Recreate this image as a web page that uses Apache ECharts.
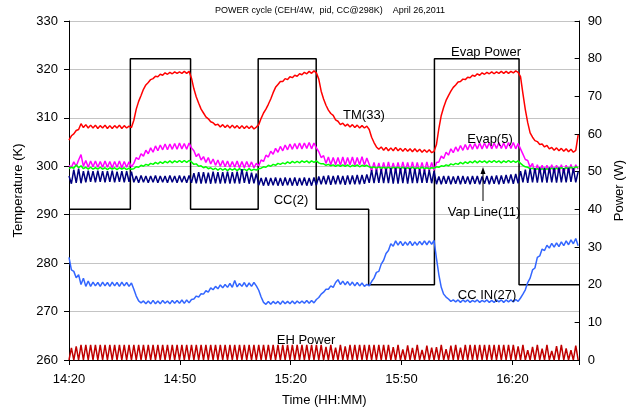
<!DOCTYPE html>
<html><head><meta charset="utf-8">
<script src="https://cdn.jsdelivr.net/npm/echarts@6/dist/echarts.min.js"></script>
<style>html,body{margin:0;padding:0;background:#fff}#c{width:634px;height:412px}</style>
</head><body><div id="c"></div>
<script>
// ---- data (minutes after 14:20, one sample every 0.65 min) ----
const sampleStepMin = 0.65;
const timeTickLabels = ['14:20', '14:50', '15:20', '15:50', '16:20'];

const evapPowerTimes = [0, 16.6, 32.9, 51.2, 66.9, 81.1, 98.9, 121.8, 138.2];
const evapPowerWatts = [40, 80, 40, 80, 40, 20, 80, 20, 20];

const tm33 = [
305.4,306.3,306.7,307.4,307.6,308.8,308.0,308.6,307.9,308.5,307.9,308.5,307.8,308.4,307.9,308.5,307.8,308.4,307.8,308.4,307.9,308.5,307.8,308.4,307.9,308.3,308.0,
309.5,311.8,313.4,314.6,315.9,316.8,317.3,317.9,318.1,318.6,318.5,319.0,318.8,319.3,319.0,319.4,319.1,319.5,319.2,319.5,319.2,319.6,319.2,319.6,
318.2,316.0,314.3,313.0,311.8,311.0,310.2,309.8,309.2,309.0,308.5,308.7,308.1,308.6,308.0,308.5,307.9,308.5,307.9,308.4,307.8,308.4,307.8,308.3,307.8,308.3,307.7,308.1,
308.6,309.9,311.0,311.8,312.8,313.9,315.2,316.3,316.9,317.5,317.5,318.1,317.9,318.5,318.3,318.8,318.6,319.1,318.9,319.4,319.1,319.6,319.2,319.7,319.3,
318.0,315.5,313.9,312.6,311.6,310.9,310.5,309.6,309.3,308.6,308.9,308.3,308.7,308.1,308.6,308.0,308.5,307.9,308.4,307.9,308.3,
307.6,306.0,304.9,304.0,303.5,304.0,303.3,303.9,303.2,303.8,303.2,303.9,303.2,303.7,303.1,303.7,303.1,303.6,303.0,303.6,303.0,303.5,302.9,303.4,302.9,303.4,302.8,303.1,
304.5,307.8,310.5,312.2,313.6,314.6,315.5,316.3,316.8,317.4,317.5,318.0,317.9,318.4,318.3,318.8,318.6,319.1,318.8,319.3,319.0,319.4,319.1,319.5,319.1,319.5,319.2,319.6,319.2,319.6,319.2,319.6,319.3,319.7,319.4,
318.5,315.0,311.7,309.0,306.9,306.0,305.3,305.1,304.5,304.6,304.0,304.3,303.6,303.9,303.3,303.8,303.2,303.7,303.1,303.6,303.0,303.5,302.9,303.3,306.5
];

const evap5 = [
300.2,299.8,300.9,300.0,301.3,302.4,300.0,301.2,299.8,301.1,299.9,301.1,299.8,301.0,299.8,301.1,299.8,301.0,299.7,301.0,299.8,301.1,299.7,301.0,299.8,300.9,299.9,
300.6,301.8,301.4,302.6,302.1,303.3,302.6,303.8,302.9,304.2,303.2,304.4,303.4,304.6,303.4,304.6,303.5,304.7,303.5,304.8,303.6,304.7,303.5,304.8,
303.8,303.2,302.0,302.6,301.3,302.0,300.8,301.8,300.5,301.5,300.2,301.3,300.0,301.2,299.9,301.1,299.8,301.0,299.8,301.1,299.7,301.0,299.7,301.0,299.8,300.9,299.7,300.6,
300.1,301.3,301.0,302.3,301.9,303.1,302.5,303.7,302.9,304.1,303.2,304.4,303.4,304.6,303.5,304.7,303.6,304.8,303.6,304.8,303.7,304.9,303.6,304.8,303.8,
303.0,301.8,302.2,300.6,301.9,300.3,301.8,300.3,301.8,300.2,301.9,300.2,301.8,300.3,301.9,300.2,301.8,300.3,302.0,300.2,301.7,
300.4,299.0,300.8,298.9,300.7,298.8,300.8,298.8,300.9,298.9,300.7,298.8,300.8,298.8,300.9,298.9,300.8,298.8,300.9,298.9,300.8,298.9,300.8,298.9,300.9,299.0,300.8,299.2,
300.8,300.9,302.1,301.6,302.9,302.3,303.6,302.8,304.0,303.1,304.3,303.3,304.5,303.4,304.6,303.5,304.7,303.6,304.8,303.6,304.8,303.7,304.9,303.6,304.8,303.7,304.9,303.7,304.8,303.6,304.9,303.7,304.9,303.6,304.7,
303.6,302.5,301.4,301.2,299.8,300.6,298.7,300.3,298.6,300.2,298.6,300.2,298.6,300.3,298.6,300.2,298.7,300.3,298.6,300.2,298.8,300.4,298.7,300.3,299.4
];

const vapLine11 = [
299.5,299.8,299.6,300.3,299.7,300.1,299.5,299.8,299.4,299.8,299.4,299.7,299.4,299.8,299.4,299.7,299.3,299.7,299.4,299.7,299.3,299.7,299.4,299.7,299.3,299.6,299.4,
299.5,299.9,299.8,300.2,300.0,300.4,300.2,300.6,300.4,300.8,300.5,300.9,300.6,301.0,300.7,301.1,300.7,301.1,300.8,301.2,300.8,301.2,300.8,301.2,
300.9,300.4,300.5,300.0,300.1,299.7,299.9,299.5,299.7,299.3,299.6,299.2,299.6,299.2,299.5,299.1,299.5,299.2,299.5,299.1,299.5,299.1,299.4,299.1,299.5,299.1,299.4,299.2,
299.5,299.6,299.9,299.8,300.2,300.0,300.4,300.2,300.6,300.4,300.7,300.5,300.9,300.6,301.0,300.7,301.0,300.7,301.1,300.8,301.1,300.7,301.1,300.8,301.1,
300.7,300.5,300.5,300.2,300.4,300.1,300.3,300.0,300.3,300.0,300.3,300.0,300.3,299.9,300.2,300.0,300.3,299.9,300.2,300.0,300.2,
299.9,299.7,299.9,299.6,299.9,299.6,299.8,299.6,299.8,299.5,299.8,299.6,299.8,299.5,299.8,299.5,299.7,299.5,299.8,299.5,299.7,299.5,299.8,299.5,299.7,299.5,299.7,299.6,
299.9,299.8,300.1,300.0,300.3,300.1,300.5,300.3,300.6,300.4,300.8,300.5,300.9,300.6,301.0,300.7,301.1,300.7,301.1,300.8,301.1,300.7,301.1,300.8,301.2,300.8,301.1,300.7,301.1,300.8,301.2,300.8,301.1,300.8,301.1,
300.6,300.2,299.9,299.8,299.5,299.6,299.3,299.5,299.2,299.5,299.2,299.5,299.3,299.6,299.3,299.6,299.4,299.7,299.4,299.7,299.5,299.8,299.5,299.9,299.7
];

const cc2 = [
298.0,296.4,299.3,296.6,299.5,296.5,299.0,296.7,299.1,296.8,299.0,296.7,299.1,296.8,299.0,296.7,299.0,296.8,299.1,296.7,298.9,296.8,299.0,296.7,299.0,296.8,298.9,
296.7,298.0,296.6,298.1,296.7,298.0,296.6,298.0,296.7,298.1,296.6,298.0,296.7,298.0,296.6,298.1,296.7,298.0,296.6,298.1,296.7,298.0,296.6,298.1,
296.6,298.6,296.5,298.8,296.4,298.8,296.5,298.7,296.4,298.9,296.5,298.8,296.4,298.8,296.5,298.9,296.4,298.8,296.5,298.9,296.4,299.4,296.6,298.9,296.4,298.7,296.5,298.5,
296.1,297.6,296.0,297.7,296.0,297.6,296.1,297.7,296.0,297.6,296.0,297.7,296.1,297.6,296.0,297.7,296.0,297.6,296.1,297.7,296.0,297.6,296.0,297.7,296.1,
297.9,296.3,298.0,296.3,298.1,296.2,298.0,296.3,298.1,296.3,298.0,296.2,298.1,296.3,298.1,296.3,298.2,296.3,298.2,296.4,298.3,
296.6,299.2,296.5,299.3,296.6,299.4,296.5,299.5,296.5,299.6,296.4,299.7,296.4,299.6,296.5,299.7,296.4,299.6,296.5,299.5,296.5,299.4,296.6,299.3,296.6,299.2,296.5,299.0,
296.3,297.9,296.3,298.0,296.4,298.0,296.3,297.9,296.4,298.0,296.3,298.0,296.4,297.9,296.3,298.0,296.4,298.0,296.3,297.9,296.4,298.0,296.3,298.0,296.4,298.1,296.3,298.1,296.4,298.2,296.5,298.3,296.4,298.4,296.5,
299.0,296.7,299.3,296.6,299.5,296.7,299.6,296.6,299.8,296.7,299.7,296.6,299.8,296.7,299.7,296.6,299.8,296.7,299.6,296.7,299.7,296.8,299.6,296.7,298.9
];

const ccIn27 = [
281.2,278.6,278.3,277.0,277.6,275.6,276.9,275.2,276.3,275.2,276.1,275.3,276.0,275.2,276.1,275.3,276.0,275.2,276.1,275.3,276.0,275.2,276.1,275.3,276.0,275.2,275.9,
274.6,273.2,272.2,271.8,272.2,271.6,272.2,271.6,272.3,271.6,272.2,271.6,272.3,271.7,272.2,271.6,272.3,271.7,272.3,271.7,272.4,271.7,272.4,271.8,
272.5,272.6,273.2,273.0,273.7,273.6,274.3,274.0,274.9,274.5,275.2,274.7,275.5,274.9,275.6,275.0,275.8,275.0,276.4,275.1,275.8,275.2,276.0,275.1,275.9,275.2,276.0,275.3,
274.4,273.0,271.9,271.5,272.1,271.5,272.1,271.6,272.1,271.5,272.2,271.6,272.1,271.6,272.2,271.6,272.2,271.7,272.2,271.7,272.3,271.7,272.3,271.8,272.5,
272.9,273.6,274.0,274.6,274.6,275.3,275.0,276.0,276.6,275.6,276.3,275.5,276.2,275.4,276.1,275.3,276.0,275.3,275.9,275.2,275.6,
275.3,276.2,276.9,278.1,278.3,279.8,280.6,282.0,282.6,284.0,283.5,284.6,283.7,284.5,283.6,284.4,283.7,284.5,283.6,284.4,283.7,284.5,283.8,284.6,283.8,284.6,283.9,284.7,
281.0,277.6,275.0,273.6,273.0,272.6,272.1,272.4,272.0,272.4,271.9,272.4,272.0,272.4,271.9,272.3,272.0,272.4,271.9,272.3,272.0,272.4,271.9,272.3,271.9,272.4,272.0,272.4,271.9,272.4,272.0,272.4,272.0,272.5,272.1,
272.8,273.6,274.5,276.0,276.9,278.6,279.0,281.2,281.5,282.9,282.6,283.7,283.1,284.1,283.3,284.2,283.4,284.4,283.6,284.6,283.8,284.8,284.0,285.1,283.6
];

const ehPower = [
0,3.2,0,3.6,0,4,0,4,0,4,0,4,0,4,0,4,0,4,0,4,0,4,0,4,0,4,0,
4,0,4,0,4,0,4,0,4,0,4,0,4,0,4,0,4,0,4,0,4,0,4,0,
4,0,4,0,4,0,4,0,4,0,4,0,4,0,4,0,4,0,4,0,4,0,4,0,4,0,4,0,
4,0,4,0,4,0,4,0,4,0,4,0,4,0,4,0,4,0,4,0,4,0,4,0,4,
0,4,0,3.5,0,4,0,3.3,0,4,0,3.6,0,4,0,4,0,4,0,4,0,
4,0,4,0,4,0,4,0,4,0,3.4,0,4,0,2.8,0,3.9,0,3.2,0,4,0,2.7,0,3.8,0,3.3,0,
3.4,0,4,0,2.9,0,3.8,0,4,0,3.3,0,4,0,4,0,4,0,4,0,4,0,4,0,4,0,4,0,4,0,4,0,4,0,3.6,
0,4,0,2.6,0,3.5,0,4,0,3.0,0,4,0,2.4,0,3.7,0,4,0,3.1,0,2.6,0,3.8,0
];

// ---- chart ----
const FONT = '"Liberation Sans", Arial, sans-serif';
function toPairs(arr) { return arr.map((v, i) => [Math.round(i * sampleStepMin * 100) / 100, v]); }
const evapPowerData = evapPowerTimes.map((t, i) => [t, evapPowerWatts[i]]);

function lineSeries(name, data, color, yAxisIndex, extra) {
  return Object.assign({
    name, type: 'line', data, yAxisIndex, symbol: 'none', showSymbol: false,
    lineStyle: { color, width: 1.5 }, itemStyle: { color }, clip: true
  }, extra || {});
}

function label(text, x, y) {
  return { type: 'text', x, y, z: 100, style: {
    text, font: '13px ' + FONT, fill: '#000',
    align: 'center', verticalAlign: 'middle', textAlign: 'center', textVerticalAlign: 'middle'
  } };
}

const chart = echarts.init(document.getElementById('c'), null, { renderer: 'canvas' });
chart.setOption({
  animation: false,
  backgroundColor: '#ffffff',
  title: {
    text: 'POWER cycle (CEH/4W,  pid, CC@298K)    April 26,2011',
    left: 325, top: 1, textAlign: 'center',
    textStyle: { fontSize: 9, fontWeight: 'normal', color: '#000', fontFamily: FONT }
  },
  grid: { left: 69, right: 49, top: 21, bottom: 50, containLabel: false },
  xAxis: {
    type: 'value', min: 0, max: 138.2, interval: 30,
    name: 'Time (HH:MM)', nameLocation: 'middle', nameGap: 34,
    nameTextStyle: { fontSize: 13, color: '#000', fontFamily: FONT },
    axisLine: { show: true, lineStyle: { color: '#000', width: 1 } },
    axisTick: { show: true, length: 5, lineStyle: { color: '#000' } },
    axisLabel: { margin: 13, fontSize: 13, color: '#000', fontFamily: FONT,
      formatter: v => { const k = Math.round(v / 30); return Math.abs(v - k * 30) < 1e-6 && timeTickLabels[k] ? timeTickLabels[k] : ''; } },
    splitLine: { show: false }
  },
  yAxis: [
    {
      type: 'value', min: 260, max: 330, interval: 10, position: 'left',
      name: 'Temperature (K)', nameLocation: 'middle', nameGap: 42, nameRotate: 90,
      nameTextStyle: { fontSize: 13, color: '#000', fontFamily: FONT },
      axisLine: { show: true, lineStyle: { color: '#000', width: 1 } },
      axisTick: { show: true, length: 5, lineStyle: { color: '#000' } },
      axisLabel: { margin: 11, fontSize: 13, color: '#000', fontFamily: FONT },
      splitLine: { show: true, lineStyle: { color: '#c4c4c4', width: 1 } }
    },
    {
      type: 'value', min: 0, max: 90, interval: 10, position: 'right',
      name: 'Power (W)', nameLocation: 'middle', nameGap: 29, nameRotate: 90,
      nameTextStyle: { fontSize: 13, color: '#000', fontFamily: FONT },
      axisLine: { show: true, lineStyle: { color: '#000', width: 1 } },
      axisTick: { show: true, inside: true, length: 5, lineStyle: { color: '#000' } },
      axisLabel: { margin: 8, fontSize: 13, color: '#000', fontFamily: FONT },
      splitLine: { show: false }
    }
  ],
  series: [
    lineSeries('Evap Power', evapPowerData, '#000000', 1, { step: 'end' }),
    lineSeries('EH Power', toPairs(ehPower), '#C00000', 1),
    lineSeries('CC IN(27)', toPairs(ccIn27), '#3366FF', 0),
    lineSeries('TM(33)', toPairs(tm33), '#FF0000', 0),
    lineSeries('Evap(5)', toPairs(evap5), '#FF00FF', 0),
    lineSeries('Vap Line(11)', toPairs(vapLine11), '#00FF00', 0),
    lineSeries('CC(2)', toPairs(cc2), '#000080', 0)
  ],
  graphic: [
    label('Evap Power', 486, 52),
    label('TM(33)', 364, 115),
    label('Evap(5)', 490, 139),
    label('CC(2)', 291, 200),
    label('Vap Line(11)', 484, 212),
    label('CC IN(27)', 487, 295),
    label('EH Power', 306, 340),
    { type: 'line', z: 100, shape: { x1: 483, y1: 201, x2: 483, y2: 173 }, style: { stroke: '#000', lineWidth: 1 } },
    { type: 'polygon', z: 100, shape: { points: [[483, 167], [480.5, 174], [485.5, 174]] }, style: { fill: '#000' } }
  ]
});
</script>
</body></html>
